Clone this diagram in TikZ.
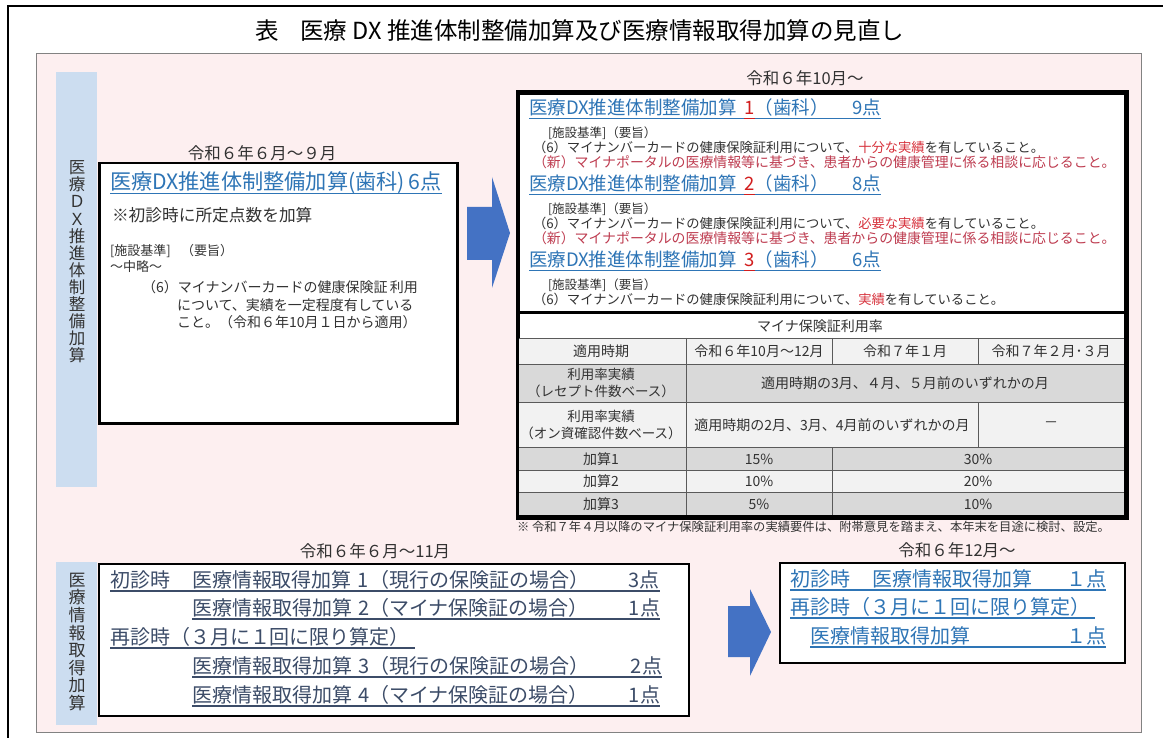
\documentclass[tikz,border=0pt]{standalone}
\usepackage{fontspec}
\setmainfont{Noto Sans CJK JP}
\usetikzlibrary{calc}
\definecolor{pinkbg}{RGB}{253,239,240}
\definecolor{panelgray}{RGB}{130,130,130}
\definecolor{stripblue}{RGB}{204,221,240}
\definecolor{hblue}{RGB}{46,117,182}
\definecolor{navy}{RGB}{60,76,104}
\definecolor{arrowblue}{RGB}{68,114,196}
\definecolor{redA}{RGB}{210,30,30}
\definecolor{hl}{RGB}{215,50,60}
\definecolor{newred}{RGB}{190,60,80}
\definecolor{txt}{RGB}{50,50,50}
\definecolor{gA}{RGB}{217,217,217}
\definecolor{gB}{RGB}{242,242,242}
\definecolor{grid}{RGB}{90,90,90}
\newsavebox\ulb
\newcommand\ulx[2]{\sbox\ulb{#2}\rlap{\color{#1}\rule[-0.22em]{\wd\ulb}{1.3pt}}\usebox\ulb}
\newcommand\fs[1]{\fontsize{#1}{#1}\selectfont}
\begin{document}
\begin{tikzpicture}[x=1pt,y=-1pt,
  lbl/.style={inner sep=0pt,outer sep=0pt,anchor=west},
  ctr/.style={inner sep=0pt,outer sep=0pt,anchor=center},
  boxA/.style={draw=black,fill=white,line width=2.5pt,inner sep=0pt,anchor=north west},
  bigarrow/.style={fill=arrowblue,draw=none},
  gridline/.style={draw=grid,line width=0.8pt}]
\useasboundingbox (0,0) rectangle (1163,738);
\fill[white] (0,0) rectangle (1163,738);
\draw[line width=2pt] (8,738) -- (8,6) -- (1163,6);
\path[fill=pinkbg,draw=panelgray,line width=1pt] (36,54) rectangle (1141,732);
\fill[stripblue] (56,72) rectangle (97,487);
\fill[stripblue] (56,562) rectangle (97,725);
\node[ctr,font=\fs{23.5}] (title) at (580,31) {表\hspace{0.9em}医療 DX 推進体制整備加算及び医療情報取得加算の見直し};
% vertical strip labels
\node[ctr,align=center,font=\fontsize{16.5}{17.1}\selectfont,text=txt] (dxlabel) at (77,262) {医\\療\\Ｄ\\Ｘ\\推\\進\\体\\制\\整\\備\\加\\算};
\node[ctr,align=center,font=\fontsize{17}{17.6}\selectfont,text=txt] (infolabel) at (77,642) {医\\療\\情\\報\\取\\得\\加\\算};
% old DX box
\node[ctr,font=\fs{16.5},text=txt] (oldper) at (262,153) {令和６年６月～９月};
\node[boxA,minimum width=358pt,minimum height=260pt] (oldbox) at (98,162) {};
\node[lbl,font=\fs{21.2},text=hblue] (oldhead) at (110,183) {\ulx{hblue}{医療DX推進体制整備加算(歯科)\,6点}};
\node[lbl,font=\fs{16.7},text=txt] (oldnote) at (112,215) {※初診時に所定点数を加算};
\node[lbl,font=\fs{13},text=txt] (oldk) at (110,251) {[施設基準]\hspace{0.8em}（要旨）};
\node[lbl,font=\fs{13},text=txt] (oldk2) at (110,267) {～中略～};
\node[lbl,font=\fs{14},text=txt] (oldc1) at (142,287) {（6）マイナンバーカードの健康保険証\,利用};
\node[lbl,font=\fs{14},text=txt] (oldc2) at (177,305) {について、実績を一定程度有している};
\node[lbl,font=\fs{14},text=txt] (oldc3) at (177,322) {こと。（令和６年10月１日から適用）};
% arrow 1
\path[bigarrow] (467,207) -- (492,207) -- (492,177) -- (510,233) -- (492,288) -- (492,260) -- (467,260) -- cycle;
% new DX box + table
\node[ctr,font=\fs{16.5},text=txt] (newper) at (805,78) {令和６年10月～};
\node[boxA,line width=3pt,minimum width=607pt,minimum height=423pt] (newbox) at (517,92) {};
\foreach \n/\y/\c/\p in {1/109/9/十分な実績,2/185/8/必要な実績,3/261/6/実績}{
  \node[lbl,font=\fs{18.5},text=hblue] (h\n) at (529,\y) {\ulx{hblue}{医療DX推進体制整備加算\hspace{0.4em}}\ulx{redA}{\textcolor{redA}{\n}}\ulx{hblue}{（歯科）\hspace{1.3em}\c 点}};
  \node[lbl,font=\fs{12.5},text=txt] (k\n) at (548,\y+24) {[施設基準]（要旨）};
  \node[lbl,font=\fs{13.3},text=txt] (s\n) at (533,\y+38) {（6）マイナンバーカードの健康保険証利用について、\textcolor{hl}{\p}を有していること。};
}
\node[lbl,font=\fs{13.9},text=newred] (new1) at (533,162) {（新）マイナポータルの医療情報等に基づき、患者からの健康管理に係る相談に応じること。};
\node[lbl,font=\fs{13.9},text=newred] (new2) at (533,238) {（新）マイナポータルの医療情報等に基づき、患者からの健康管理に係る相談に応じること。};
% table fills
\fill[gB] (517,338) rectangle (1124,364);
\fill[gA] (517,364) rectangle (1124,402);
\fill[gB] (517,402) rectangle (1124,447);
\fill[gA] (517,447) rectangle (1124,470);
\fill[gB] (517,470) rectangle (1124,492);
\fill[gA] (517,492) rectangle (1124,515);
\foreach \y in {338,364,402,447,470,492} \draw[gridline] (517,\y) -- (1124,\y);
\draw[gridline] (686,338) -- (686,515);
\draw[gridline] (832,338) -- (832,364);
\draw[gridline] (832,447) -- (832,515);
\draw[gridline] (978,338) -- (978,364);
\draw[gridline] (978,402) -- (978,447);
\draw[line width=3pt] (newbox.north west) rectangle (newbox.south east);
\draw[line width=3pt] (517,313) -- (1124,313);
\begin{scope}[every node/.style={ctr,font=\fs{14},text=txt}]
\node (tt) at (820,326) {マイナ保険証利用率};
\node (c11) at (601,351) {適用時期};
\node (c12) at (759,351) {令和６年10月～12月};
\node (c13) at (905,351) {令和７年１月};
\node (c14) at (1051,351) {令和７年２月･３月};
\node[align=center,font=\fontsize{13.5}{17}\selectfont] (c21) at (601,383) {利用率実績\\（レセプト件数ベース）};
\node (c22) at (905,383) {適用時期の3月、４月、５月前のいずれかの月};
\node[align=center,font=\fontsize{13.5}{17}\selectfont] (c31) at (601,425) {利用率実績\\（オン資確認件数ベース）};
\node (c32) at (832,425) {適用時期の2月、3月、4月前のいずれかの月};
\node (c33) at (1051,425) {－};
\node (c41) at (601,459) {加算1};
\node (c42) at (759,459) {15\%};
\node (c43) at (978,459) {30\%};
\node (c51) at (601,481) {加算2};
\node (c52) at (759,481) {10\%};
\node (c53) at (978,481) {20\%};
\node (c61) at (601,504) {加算3};
\node (c62) at (759,504) {5\%};
\node (c63) at (978,504) {10\%};
\end{scope}
\node[lbl,font=\fs{12.3},text=txt] (tnote) at (517,527) {※ 令和７年４月以降のマイナ保険証利用率の実績要件は、附帯意見を踏まえ、本年末を目途に検討、設定。};
% lower left box
\node[ctr,font=\fs{16.5},text=txt] (infoper) at (375,551) {令和６年６月～11月};
\node[boxA,line width=2pt,minimum width=590pt,minimum height=152pt] (infobox) at (98,563) {};
\begin{scope}[every node/.style={lbl,font=\fs{20},text=navy}]
\node (i1) at (110,581) {\ulx{navy}{\hbox to 550pt{初診時\hspace{1.1em}医療情報取得加算\hspace{0.3em}1（現行の保険証の場合）\hfill 3点}}};
\node (i2) at (192,609) {\ulx{navy}{\hbox to 468pt{医療情報取得加算\hspace{0.3em}2（マイナ保険証の場合）\hfill 1点}}};
\node (i3) at (110,638) {\ulx{navy}{\hbox to 305pt{再診時（３月に１回に限り算定）\hfill}}};
\node (i4) at (192,667) {\ulx{navy}{\hbox to 470pt{医療情報取得加算\hspace{0.3em}3（現行の保険証の場合）\hfill 2点}}};
\node (i5) at (192,696) {\ulx{navy}{\hbox to 468pt{医療情報取得加算\hspace{0.3em}4（マイナ保険証の場合）\hfill 1点}}};
\end{scope}
% arrow 2
\path[bigarrow] (728,606) -- (750,606) -- (750,589) -- (771,632) -- (750,676) -- (750,657) -- (728,657) -- cycle;
% lower right box
\node[ctr,font=\fs{16.5},text=txt] (infonewper) at (957,550) {令和６年12月～};
\node[boxA,line width=2pt,minimum width=345pt,minimum height=100pt] (infonew) at (779,562) {};
\begin{scope}[every node/.style={lbl,font=\fs{20},text=hblue}]
\node (j1) at (790,580) {\ulx{hblue}{\hbox to 316pt{初診時\hspace{1.1em}医療情報取得加算\hfill １点}}};
\node (j2) at (790,608) {\ulx{hblue}{\hbox to 305pt{再診時（３月に１回に限り算定）\hfill}}};
\node (j3) at (810,637) {\ulx{hblue}{\hbox to 296pt{医療情報取得加算\hfill １点}}};
\end{scope}
\end{tikzpicture}
\end{document}
